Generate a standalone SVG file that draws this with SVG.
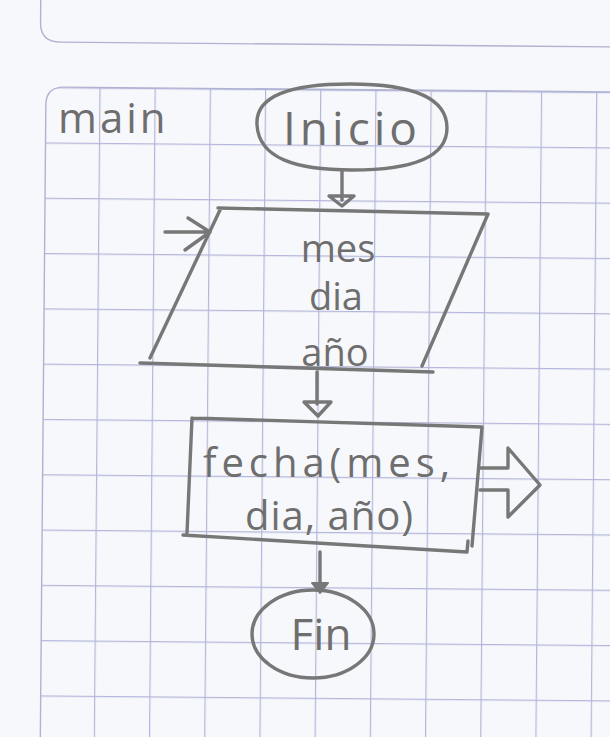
<svg xmlns="http://www.w3.org/2000/svg" width="610" height="737" viewBox="0 0 610 737">
  <defs>
    <pattern id="grid" patternUnits="userSpaceOnUse" x="53.4" y="55.4" width="55.2" height="55.3">
      <path d="M0 0.6 H55.2 M0.6 0 V55.3" stroke="#b3b6da" stroke-width="1.2" fill="none"/>
    </pattern>
    <clipPath id="cardClip">
      <path d="M0 900 V18 Q0 0 18 0 H700 V900 Z"/>
    </clipPath>
  </defs>
  <style>
    .pen { fill: none; stroke: #777777; stroke-width: 3.4; stroke-linecap: round; stroke-linejoin: round; }
    .penfill { fill: #777777; stroke: #777777; stroke-width: 2; stroke-linejoin: round; }
    .hand { font-family: "Open Sans", "DejaVu Sans", sans-serif; fill: #6e6e6e; }
    .border { fill: none; stroke: #b0b2d2; stroke-width: 1.4; }
  </style>

  <!-- paper -->
  <rect x="0" y="0" width="610" height="737" fill="#f7f8fb"/>

  <!-- grid paper, slightly rotated as scanned -->
  <g id="paper" transform="translate(46 87) rotate(0.5)">
    <path class="border" d="M-6 -100 V-64 Q-6 -45 14 -45 H700"/>
    <rect x="0" y="0" width="700" height="900" fill="url(#grid)" clip-path="url(#cardClip)"/>
    <path class="border" d="M0 900 V18 Q0 0 18 0 H700"/>
  </g>

  <!-- title -->
  <g id="title">
    <text class="hand" x="58" y="133" font-size="42" letter-spacing="3">main</text>
  </g>

  <!-- nodes -->
  <g id="inicio">
    <path class="pen" d="M257 125 C255 96 290 84 350 84 C410 84 447 96 447 128 C447 160 405 170 352 170 C295 170 259 158 257 125 Z"/>
    <text class="hand" x="352" y="145" font-size="46" letter-spacing="4" text-anchor="middle">Inicio</text>
  </g>

  <g id="entrada">
    <path class="pen" d="M218 208 L488 214 M488 214 L422 366 M140 363 L433 372 M220 210 L150 358"/>
    <path class="pen" d="M165 232 L210 232 M188 218 L210 232 L185 250"/>
    <text class="hand" x="338" y="262" font-size="38" text-anchor="middle">mes</text>
    <text class="hand" x="336" y="310" font-size="38" text-anchor="middle">dia</text>
    <text class="hand" x="335" y="366" font-size="38" text-anchor="middle">año</text>
  </g>

  <g id="proceso">
    <path class="pen" d="M192 418 L482 427 M482 427 L472 546 M183 535 L467 552 L468 541 M192 418 L187 533"/>
    <text class="hand" x="203" y="477" font-size="40" textLength="247" lengthAdjust="spacing">fecha(mes,</text>
    <text class="hand" x="245" y="530" font-size="40" textLength="168" lengthAdjust="spacing">dia, año)</text>
    <path class="pen" d="M480 468 H508 V448 L540 485 L508 517 V490 H480"/>
  </g>

  <g id="fin">
    <ellipse class="pen" cx="313" cy="634" rx="61" ry="44"/>
    <text class="hand" x="321" y="650" font-size="44" text-anchor="middle">Fin</text>
  </g>

  <!-- connectors -->
  <g id="connectors">
    <path class="pen" d="M342 170 L342 200"/>
    <path class="pen" d="M329 196 L354 196 L342 206 Z"/>
    <path class="pen" d="M317 372 L317 404"/>
    <path class="pen" d="M304 402 L331 402 L318 416 Z"/>
    <path class="pen" d="M320 552 L320 586"/>
    <path class="penfill" d="M312 583 L328 583 L320 593 Z"/>
  </g>
</svg>
